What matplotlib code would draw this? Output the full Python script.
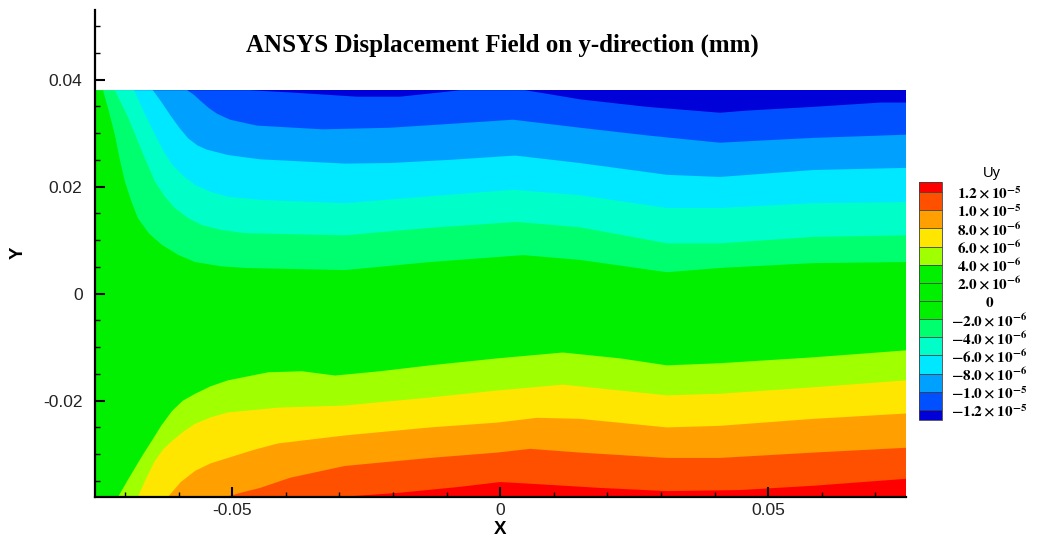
import numpy as np
import matplotlib
matplotlib.use("Agg")
import matplotlib.pyplot as plt
from matplotlib.colors import ListedColormap, BoundaryNorm
from matplotlib.patches import Polygon
from matplotlib.cm import ScalarMappable
from matplotlib.ticker import FixedLocator, MultipleLocator

plt.rcParams['axes.unicode_minus'] = False
plt.rcParams['mathtext.fontset'] = 'stix'

# ---------------- data ----------------
title = "ANSYS Displacement Field on y-direction (mm)"
legend_title = "Uy"
x_label = "X"
y_label = "Y"

levels = [-1.2e-5, -1.0e-5, -8.0e-6, -6.0e-6, -4.0e-6, -2.0e-6, 0.0,
          2.0e-6, 4.0e-6, 6.0e-6, 8.0e-6, 1.0e-5, 1.2e-5]
level_labels = [r'$\mathbf{-1.2\times10^{-5}}$', r'$\mathbf{-1.0\times10^{-5}}$',
                r'$\mathbf{-8.0\times10^{-6}}$', r'$\mathbf{-6.0\times10^{-6}}$',
                r'$\mathbf{-4.0\times10^{-6}}$', r'$\mathbf{-2.0\times10^{-6}}$',
                r'$\mathbf{0}$',
                r'$\mathbf{2.0\times10^{-6}}$', r'$\mathbf{4.0\times10^{-6}}$',
                r'$\mathbf{6.0\times10^{-6}}$', r'$\mathbf{8.0\times10^{-6}}$',
                r'$\mathbf{1.0\times10^{-5}}$', r'$\mathbf{1.2\times10^{-5}}$']
band_colors = ['#0050ff', '#00a0ff', '#00e8ff', '#00ffc8', '#00ff6e', '#00f000',
               '#00f000', '#00f000', '#a0ff00', '#ffe600', '#ffa000', '#ff5000']
under_color = '#0000d8'
over_color = '#ff0000'

x_ticks = [-0.05, 0.0, 0.05]
x_tick_labels = ['-0.05', '0', '0.05']
y_ticks = [-0.02, 0.0, 0.02, 0.04]
y_tick_labels = ['-0.02', '0', '0.02', '0.04']

domain_x = (-0.0756, 0.0757)
domain_y = (-0.038, 0.038)

# contour boundaries (level, x, y)
bnd_levels = [-1.2e-5, -1.0e-5, -8.0e-6, -6.0e-6, -4.0e-6, -2.0e-6,
              4.0e-6, 6.0e-6, 8.0e-6, 1.0e-5, 1.2e-5]

bnd_m12_x = [-0.0467, -0.0392, -0.0267, -0.0187, -0.0112, -0.0075, 0.0046, 0.0084,
             0.0149, 0.0274, 0.0410, 0.0460, 0.0584, 0.0709, 0.0757]
bnd_m12_y = [0.0380, 0.0376, 0.0368, 0.0368, 0.0376, 0.0380, 0.0380, 0.0374,
             0.0363, 0.0349, 0.0338, 0.0342, 0.0349, 0.0357, 0.0357]

bnd_m10_x = [-0.0584, -0.0572, -0.0560, -0.0544, -0.0528, -0.0504, -0.0454, -0.0331,
             -0.0206, -0.0112, 0.0024, 0.0149, 0.0280, 0.0410, 0.0485, 0.0584, 0.0757]
bnd_m10_y = [0.0380, 0.0372, 0.0361, 0.0347, 0.0336, 0.0325, 0.0314, 0.0307,
             0.0310, 0.0316, 0.0325, 0.0310, 0.0295, 0.0282, 0.0286, 0.0291, 0.0297]

bnd_m8_x = [-0.0648, -0.0632, -0.0616, -0.0598, -0.0582, -0.0565, -0.0547, -0.0508,
            -0.0448, -0.0290, -0.0206, -0.0094, 0.0028, 0.0149, 0.0311, 0.0410,
            0.0584, 0.0757]
bnd_m8_y = [0.0380, 0.0358, 0.0334, 0.0309, 0.0290, 0.0277, 0.0269, 0.0259,
            0.0251, 0.0243, 0.0244, 0.0250, 0.0258, 0.0244, 0.0222, 0.0218,
            0.0231, 0.0235]

bnd_m6_x = [-0.0683, -0.0664, -0.0644, -0.0628, -0.0612, -0.0590, -0.0569, -0.0540,
            -0.0508, -0.0444, -0.0290, -0.0131, 0.0024, 0.0149, 0.0311, 0.0410,
            0.0584, 0.0757]
bnd_m6_y = [0.0380, 0.0338, 0.0297, 0.0266, 0.0241, 0.0219, 0.0203, 0.0190,
            0.0181, 0.0175, 0.0169, 0.0182, 0.0194, 0.0184, 0.0160, 0.0160,
            0.0169, 0.0171]

bnd_m4_x = [-0.0719, -0.0694, -0.0668, -0.0644, -0.0626, -0.0607, -0.0582, -0.0556,
            -0.0520, -0.0476, -0.0290, -0.0131, 0.0031, 0.0149, 0.0311, 0.0410,
            0.0584, 0.0757]
bnd_m4_y = [0.0380, 0.0329, 0.0265, 0.0209, 0.0182, 0.0160, 0.0141, 0.0128,
            0.0119, 0.0113, 0.0109, 0.0123, 0.0134, 0.0124, 0.0094, 0.0094,
            0.0106, 0.0109]

bnd_m2_x = [-0.0741, -0.0730, -0.0719, -0.0710, -0.0700, -0.0688, -0.0676, -0.0655,
            -0.0631, -0.0600, -0.0569, -0.0520, -0.0476, -0.0290, -0.0131, 0.0043,
            0.0149, 0.0311, 0.0410, 0.0584, 0.0757]
bnd_m2_y = [0.0380, 0.0340, 0.0297, 0.0252, 0.0209, 0.0172, 0.0141, 0.0112,
            0.0091, 0.0072, 0.0059, 0.0051, 0.0048, 0.0044, 0.0059, 0.0072,
            0.0063, 0.0040, 0.0048, 0.0057, 0.0059]

bnd_p4_x = [-0.0713, -0.0697, -0.0681, -0.0666, -0.0650, -0.0632, -0.0612, -0.0592,
            -0.0569, -0.0540, -0.0508, -0.0433, -0.0370, -0.0308, -0.0224, -0.0131,
            -0.0006, 0.0117, 0.0224, 0.0311, 0.0410, 0.0584, 0.0757]
bnd_p4_y = [-0.0380, -0.0352, -0.0325, -0.0300, -0.0275, -0.0246, -0.0219, -0.0200,
            -0.0187, -0.0173, -0.0162, -0.0147, -0.0145, -0.0153, -0.0145, -0.0134,
            -0.0121, -0.0110, -0.0121, -0.0134, -0.0130, -0.0119, -0.0106]

bnd_p6_x = [-0.0676, -0.0660, -0.0644, -0.0628, -0.0612, -0.0590, -0.0569, -0.0540,
            -0.0508, -0.0415, -0.0290, -0.0131, -0.0006, 0.0117, 0.0311, 0.0410,
            0.0584, 0.0757]
bnd_p6_y = [-0.0380, -0.0344, -0.0312, -0.0290, -0.0275, -0.0257, -0.0243, -0.0231,
            -0.0222, -0.0213, -0.0209, -0.0194, -0.0181, -0.0170, -0.0190, -0.0187,
            -0.0175, -0.0162]

bnd_p8_x = [-0.0620, -0.0596, -0.0569, -0.0540, -0.0508, -0.0460, -0.0415, -0.0290,
            -0.0131, -0.0006, 0.0069, 0.0149, 0.0311, 0.0410, 0.0584, 0.0757]
bnd_p8_y = [-0.0380, -0.0352, -0.0331, -0.0317, -0.0307, -0.0292, -0.0280, -0.0265,
            -0.0250, -0.0241, -0.0232, -0.0234, -0.0250, -0.0247, -0.0234, -0.0224]

bnd_p10_x = [-0.0513, -0.0480, -0.0448, -0.0392, -0.0290, -0.0131, -0.0006, 0.0056,
             0.0149, 0.0311, 0.0410, 0.0584, 0.0757]
bnd_p10_y = [-0.0380, -0.0371, -0.0363, -0.0344, -0.0322, -0.0307, -0.0297, -0.0290,
             -0.0297, -0.0307, -0.0307, -0.0297, -0.0288]

bnd_p12_x = [-0.0299, -0.0187, -0.0075, 0.0000, 0.0087, 0.0186, 0.0311, 0.0447,
             0.0584, 0.0757]
bnd_p12_y = [-0.0380, -0.0372, -0.0361, -0.0352, -0.0357, -0.0363, -0.0369, -0.0367,
             -0.0359, -0.0346]

boundaries = [(bnd_m12_x, bnd_m12_y), (bnd_m10_x, bnd_m10_y), (bnd_m8_x, bnd_m8_y),
              (bnd_m6_x, bnd_m6_y), (bnd_m4_x, bnd_m4_y), (bnd_m2_x, bnd_m2_y),
              (bnd_p4_x, bnd_p4_y), (bnd_p6_x, bnd_p6_y), (bnd_p8_x, bnd_p8_y),
              (bnd_p10_x, bnd_p10_y), (bnd_p12_x, bnd_p12_y)]

# ---------------- figure ----------------
W, H = 1042, 541
fig = plt.figure(figsize=(W / 100, H / 100), dpi=100)
ax = fig.add_axes([95 / W, 1 - 497 / H, 811 / W, 487 / H])

cmap = ListedColormap(band_colors).with_extremes(under=under_color, over=over_color)
norm = BoundaryNorm(levels, cmap.N)

xmin, xmax = domain_x
ymin, ymax = domain_y

ax.add_patch(Polygon([(xmin, ymin), (xmax, ymin), (xmax, ymax), (xmin, ymax)],
                     closed=True, facecolor=cmap(norm(levels[0] - 1e-7)),
                     edgecolor='none', zorder=1))
for lev, (bx, by) in zip(bnd_levels, boundaries):
    pts = list(zip(bx, by))
    if by[0] >= ymax - 1e-9:
        verts = [(xmin, ymax)] + pts + [(xmax, ymin), (xmin, ymin)]
    else:
        verts = pts + [(xmax, ymin)]
    ax.add_patch(Polygon(verts, closed=True, facecolor=cmap(norm(lev + 1e-8)),
                         edgecolor='none', zorder=1))

ax.set_xlim(-0.0756, 0.0757)
ax.set_ylim(-0.038, 0.053)
for s in ['top', 'right']:
    ax.spines[s].set_visible(False)
for s in ['left', 'bottom']:
    ax.spines[s].set_linewidth(1.6)
    ax.spines[s].set_zorder(5)

ax.xaxis.set_major_locator(FixedLocator(x_ticks))
ax.set_xticklabels(x_tick_labels)
ax.yaxis.set_major_locator(FixedLocator(y_ticks))
ax.set_yticklabels(y_tick_labels)
ax.xaxis.set_minor_locator(MultipleLocator(0.01))
ax.yaxis.set_minor_locator(MultipleLocator(0.005))
ax.tick_params(which='major', direction='in', length=7, width=1.5, color='black',
               labelsize=12.5, labelcolor='#222222')
ax.tick_params(which='minor', direction='in', length=3.5, width=1.0, color='black')
ax.tick_params(axis='x', which='major', pad=4)
ax.tick_params(axis='y', which='major', pad=9)
for lbl in ax.get_xticklabels() + ax.get_yticklabels():
    lbl.set_family('Liberation Sans')

fig.text(502 / W, 1 - 45 / H, title, family='Liberation Serif', weight='bold',
         fontsize=18, ha='center', va='center')
fig.text(500 / W, 1 - 529 / H, x_label, family='Liberation Sans', weight='bold',
         fontsize=13.5, ha='center', va='center')
fig.text(18 / W, 1 - 253 / H, y_label, family='Liberation Sans', weight='bold',
         fontsize=13.5, ha='center', va='center', rotation=90)

cax = fig.add_axes([919 / W, 1 - 420 / H, 23 / W, 238 / H])
sm = ScalarMappable(norm=norm, cmap=cmap)
cb = fig.colorbar(sm, cax=cax, extend='both', extendrect=True, extendfrac=0.046,
                  drawedges=True, ticks=levels)
cb.set_ticklabels(level_labels)
cb.outline.set_linewidth(0.6)
cb.outline.set_edgecolor('#404040')
cb.dividers.set_color('#404040')
cb.dividers.set_linewidth(0.6)
cax.tick_params(length=0, pad=34, labelsize=11)
for lbl in cax.get_yticklabels():
    lbl.set_ha('center')
fig.text(992 / W, 1 - 173 / H, legend_title, family='Liberation Sans',
         fontsize=10.5, ha='center', va='center')

fig.savefig('out.png', dpi=100)
